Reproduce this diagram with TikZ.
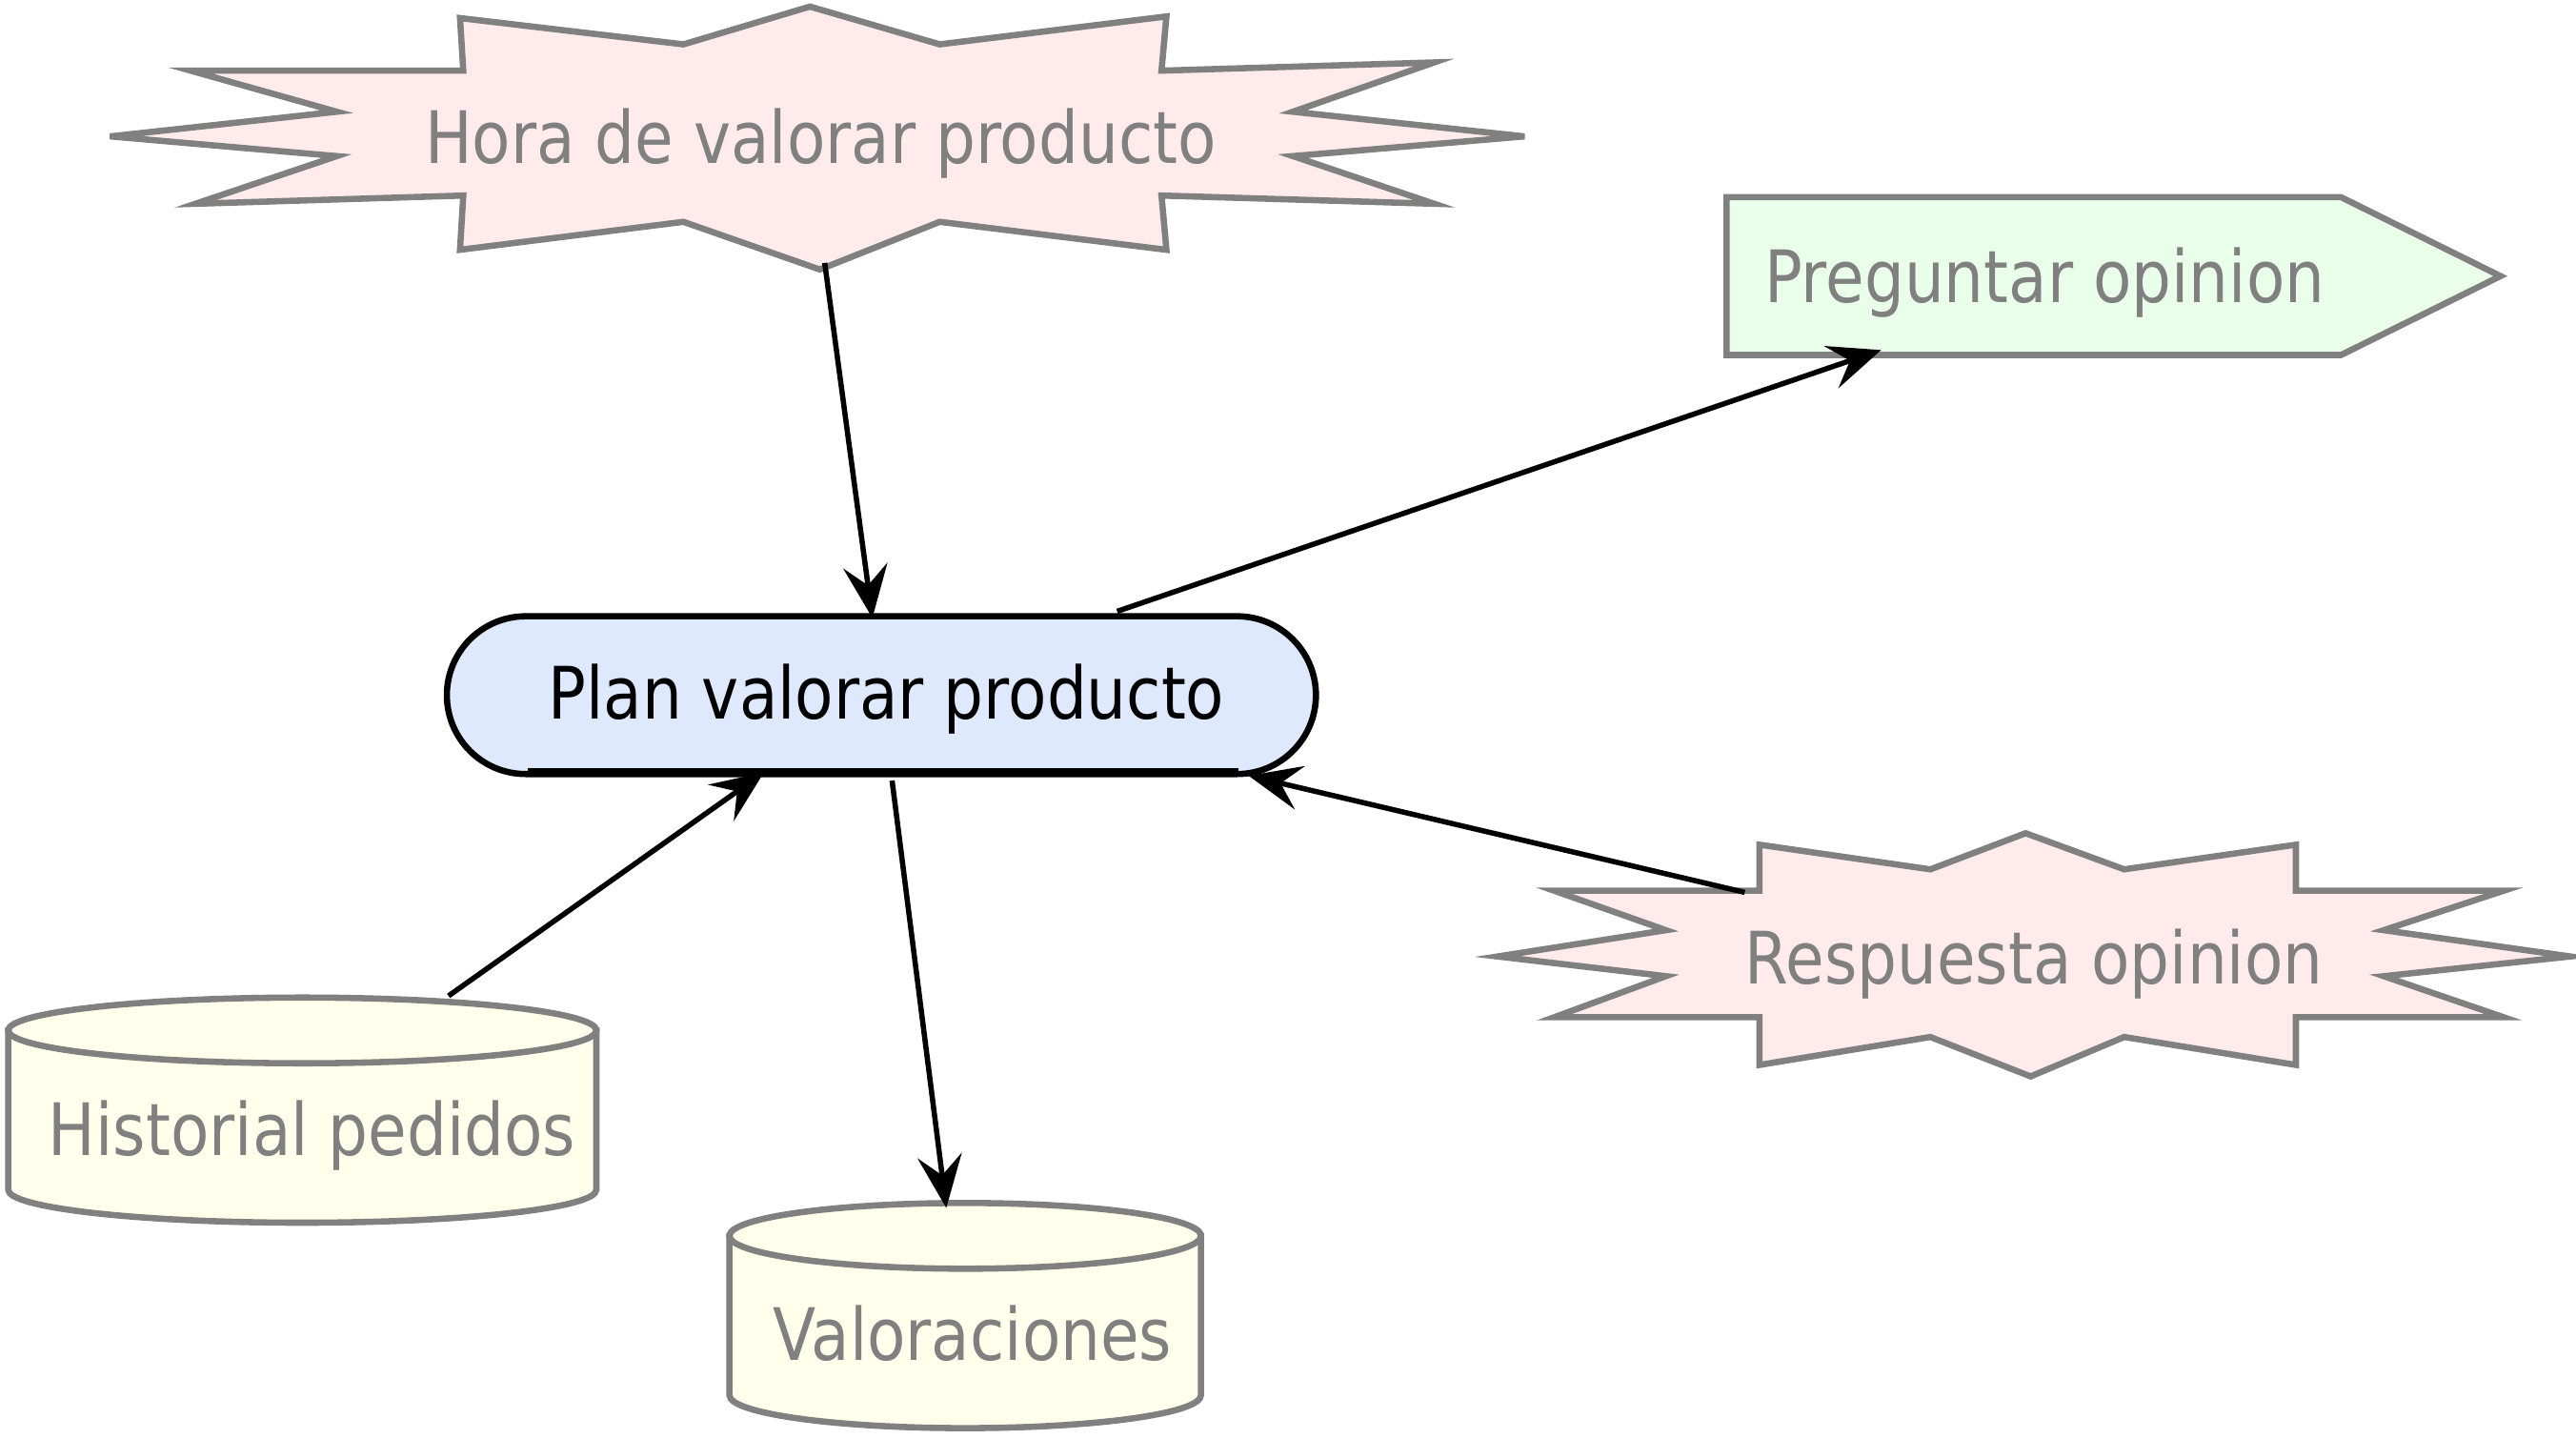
\documentclass[tikz,border=0pt]{standalone}
\usepackage{fontspec}
\setmainfont{DejaVu Sans}[FakeStretch=0.87]
\usetikzlibrary{arrows.meta}
\definecolor{pinkfill}{HTML}{FFEBEB}
\definecolor{greenfill}{HTML}{EAFFEA}
\definecolor{bluefill}{HTML}{DEE9FD}
\definecolor{yellowfill}{HTML}{FFFFEC}
\definecolor{linegray}{HTML}{808080}
\definecolor{txtgray}{HTML}{808080}
\begin{document}
\begin{tikzpicture}[x=0.5pt,y=0.5pt,
  lbl/.style={font=\fontsize{22}{26}\selectfont, text=txtgray, inner sep=0pt, anchor=base},
  shapeline/.style={draw=linegray, line width=1.9pt, line join=miter},
  conn/.style={draw=black, line width=1.6pt, -{Stealth[length=16pt,width=13.5pt,inset=6pt]}}]
\useasboundingbox (0,0) rectangle (1568,-875.6);

% Hora de valorar producto (starburst)
\path[shapeline, fill=pinkfill]
  (493,-4) -- (572,-27) -- (710,-10) -- (707,-43) -- (873,-38) -- (787,-68) --
  (928,-83) -- (787,-95) -- (873,-124) -- (707,-119) -- (710,-152) -- (572,-135) --
  (499,-164) -- (416,-135) -- (280,-152) -- (282,-119) -- (119,-124) -- (205,-95) --
  (67,-83) -- (205,-68) -- (116,-43) -- (282,-43) -- (280,-11) -- (416,-27) -- cycle;
\node[lbl] (hora) at (499.5,-99.6) {Hora de valorar producto};

% Preguntar opinion (pentagon arrow)
\path[shapeline, fill=greenfill]
  (1051,-120) -- (1425,-120) -- (1522,-168) -- (1425,-216) -- (1051,-216) -- cycle;
\node[lbl] (preg) at (1244.5,-184) {Preguntar opinion};

% Plan valorar producto
\path[draw=black, line width=1.9pt, fill=bluefill, rounded corners=24pt]
  (272,-375) rectangle (801,-471);
\draw[line width=2.6pt] (321,-470) -- (754,-470);
\node[lbl, text=black] (plan) at (539.5,-437.8) {Plan valorar producto};

% Respuesta opinion (starburst)
\path[shapeline, fill=pinkfill]
  (1233,-507) -- (1293,-529) -- (1397.5,-514) -- (1397.5,-542) -- (1524,-542) --
  (1451,-566) -- (1564.5,-582) -- (1451,-594) -- (1524,-619) -- (1397.5,-619) --
  (1397.5,-648) -- (1293,-631) -- (1236,-655) -- (1175,-631) -- (1071,-648) --
  (1071,-619) -- (946,-619) -- (1014,-594) -- (911.6,-582) -- (1014,-566) --
  (946,-542) -- (1071,-542) -- (1071,-514) -- (1175,-529) -- cycle;
\node[lbl] (resp) at (1238,-598.8) {Respuesta opinion};

% Historial pedidos (cylinder)
\path[shapeline, fill=yellowfill]
  (5,-627) -- (5,-724) arc[start angle=180, end angle=360, x radius=89.5pt, y radius=10pt]
  -- (363,-627) -- cycle;
\path[shapeline, fill=yellowfill] (184,-627) ellipse [x radius=89.5pt, y radius=10pt];
\node[lbl] (hist) at (190,-703) {Historial pedidos};

% Valoraciones (cylinder)
\path[shapeline, fill=yellowfill]
  (444,-752) -- (444,-849) arc[start angle=180, end angle=360, x radius=71.75pt, y radius=10pt]
  -- (731,-752) -- cycle;
\path[shapeline, fill=yellowfill] (587.5,-752) ellipse [x radius=71.75pt, y radius=10pt];
\node[lbl] (valo) at (592,-828) {Valoraciones};

% connector end points
\coordinate (hora-s) at (502,-160);
\coordinate (plan-n) at (531,-376);
\coordinate (plan-ne) at (680,-372);
\coordinate (preg-s) at (1145,-213);
\coordinate (hist-n) at (273,-606);
\coordinate (plan-sw) at (465,-470);
\coordinate (plan-s) at (543,-475);
\coordinate (valo-n) at (576,-735);
\coordinate (resp-nw) at (1062,-543);
\coordinate (plan-se) at (760,-472);

\draw[conn] (hora-s) -- (plan-n);
\draw[conn] (plan-ne) -- (preg-s);
\draw[conn] (hist-n) -- (plan-sw);
\draw[conn] (plan-s) -- (valo-n);
\draw[conn] (resp-nw) -- (plan-se);
\end{tikzpicture}
\end{document}
